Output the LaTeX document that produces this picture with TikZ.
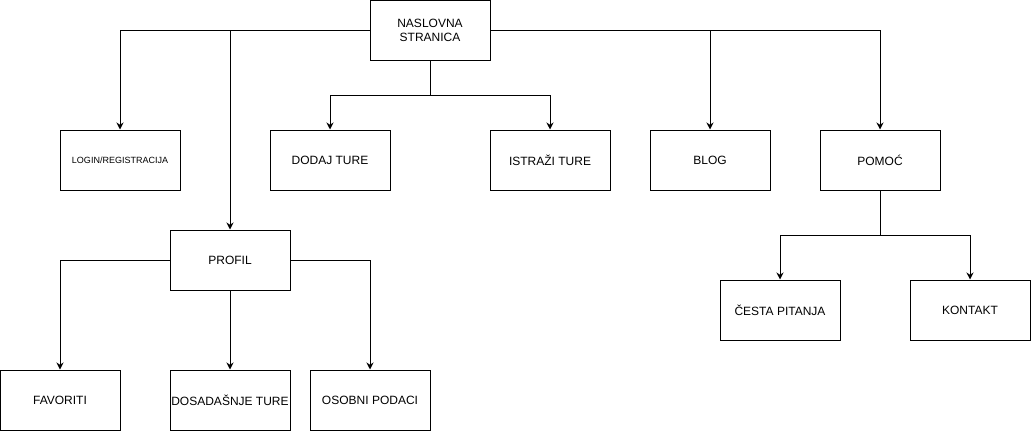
\documentclass[tikz,border=0pt]{standalone}
\usepackage{fontspec}
\setmainfont{Liberation Sans}
\usetikzlibrary{arrows.meta, positioning}

\begin{document}
\begin{tikzpicture}[
        x=1pt, y=-1pt,
        page/.style={rectangle, draw=black, fill=white, line width=1pt, minimum width=120pt, minimum height=60pt, inner sep=1pt, align=center, font=\fontsize{12}{14}\selectfont},
        link/.style={draw=black, line width=1pt, -{Stealth[length=7pt, width=7pt]}}
    ]
        \useasboundingbox (0,0) rectangle (1032,431);

        % Top level
        \node[page] (home) at (430,30) {NASLOVNA\\STRANICA};
        \node[page, font=\fontsize{9}{11}\selectfont] (login) at (120,160) {LOGIN/REGISTRACIJA};
        \node[page] (dodaj) at (330,160) {DODAJ TURE};
        \node[page, right=99pt of dodaj] (istrazi) {ISTRAŽI TURE};
        \node[page, right=39pt of istrazi] (blog) {BLOG};
        \node[page, right=49pt of blog] (pomoc) {POMOĆ};

        % Profile branch
        \node[page] (profil) at (230,260) {PROFIL};
        \node[page] (favoriti) at (60,400) {FAVORITI};
        \node[page] (dosadasnje) at (230,400) {DOSADAŠNJE TURE};
        \node[page, right=19pt of dosadasnje] (osobni) {OSOBNI PODACI};

        % Help branch
        \node[page] (pitanja) at (780,310) {ČESTA PITANJA};
        \node[page, right=69pt of pitanja] (kontakt) {KONTAKT};

        % Connectors
        \draw[link] (home.west) -| (login.north);
        \draw[link] (home.west) -| (profil.north);
        \draw[link] (home.south) -- ++(0,35) -| (dodaj.north);
        \draw[link] (home.south) -- ++(0,35) -| (istrazi.north);
        \draw[link] (home.east) -| (blog.north);
        \draw[link] (home.east) -| (pomoc.north);

        \draw[link] (profil.west) -| (favoriti.north);
        \draw[link] (profil.south) -- (dosadasnje.north);
        \draw[link] (profil.east) -| (osobni.north);

        \draw[link] (pomoc.south) -- ++(0,45) -| (pitanja.north);
        \draw[link] (pomoc.south) -- ++(0,45) -| (kontakt.north);
    \end{tikzpicture}
\end{document}
